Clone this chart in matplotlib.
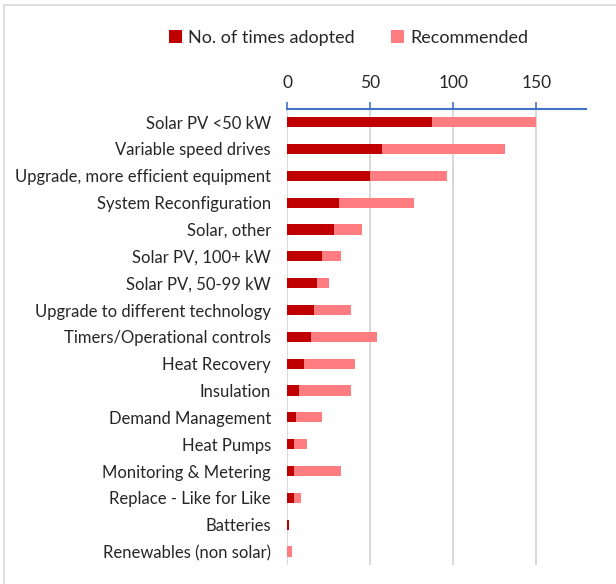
import matplotlib
matplotlib.use("Agg")
from matplotlib import pyplot as plt
from matplotlib.patches import Rectangle
import numpy as np

categories = [
    "Solar PV <50 kW",
    "Variable speed drives",
    "Upgrade, more efficient equipment",
    "System Reconfiguration",
    "Solar, other",
    "Solar PV, 100+ kW",
    "Solar PV, 50-99 kW",
    "Upgrade to different technology",
    "Timers/Operational controls",
    "Heat Recovery",
    "Insulation",
    "Demand Management",
    "Heat Pumps",
    "Monitoring & Metering",
    "Replace - Like for Like",
    "Batteries",
    "Renewables (non solar)",
]
adopted = [87, 57, 50, 31, 28, 21, 18, 16, 14, 10, 7, 5, 4, 4, 4, 1, 0]
recommended = [63, 74, 46, 45, 17, 11, 7, 22, 40, 31, 31, 16, 8, 28, 4, 0, 3]
x_ticks = [0, 50, 100, 150]

plt.rcParams["font.family"] = ["Lato", "DejaVu Sans"]

fig = plt.figure(figsize=(6.16, 5.84), dpi=100)
ax = fig.add_axes([0.4667, 0.0325, 0.4846, 0.7814])

y = np.arange(len(categories))
dark = "#C00000"
light = "#FF7C80"
ax.barh(y, adopted, height=0.38, color=dark, label="No. of times adopted", zorder=3)
ax.barh(y, recommended, left=adopted, height=0.38, color=light, label="Recommended", zorder=3)

ax.set_xlim(0, 180)
ax.set_ylim(len(categories) - 0.5, -0.5)
ax.set_yticks(y)
ax.set_yticklabels(categories, fontsize=12, color="#262626")
ax.set_xticks(x_ticks)
ax.set_xticklabels([str(t) for t in x_ticks], fontsize=12.5, color="#262626")

ax.xaxis.tick_top()
ax.tick_params(axis="x", direction="out", length=5, width=1.2, color="#4472C4", pad=8)
ax.tick_params(axis="y", length=0, pad=12)
ax.grid(axis="x", color="#D9D9D9", linewidth=1.5, zorder=0)

for side in ["left", "right", "bottom"]:
    ax.spines[side].set_visible(False)
ax.spines["top"].set_color("#4472C4")
ax.spines["top"].set_linewidth(1.5)

fig.legend(loc="center", bbox_to_anchor=(0.566, 0.935), ncol=2, frameon=False,
           fontsize=13, handlelength=0.7, handleheight=0.7, handletextpad=0.35,
           columnspacing=2.0, labelcolor="#262626")

# thin chart border
fig.patches.append(Rectangle((4 / 616, -0.05), 1.2, 1 - 5 / 584 + 0.05, transform=fig.transFigure,
                             fill=False, edgecolor="#D9D9D9", linewidth=1.2))

fig.savefig("out.png", dpi=100)
